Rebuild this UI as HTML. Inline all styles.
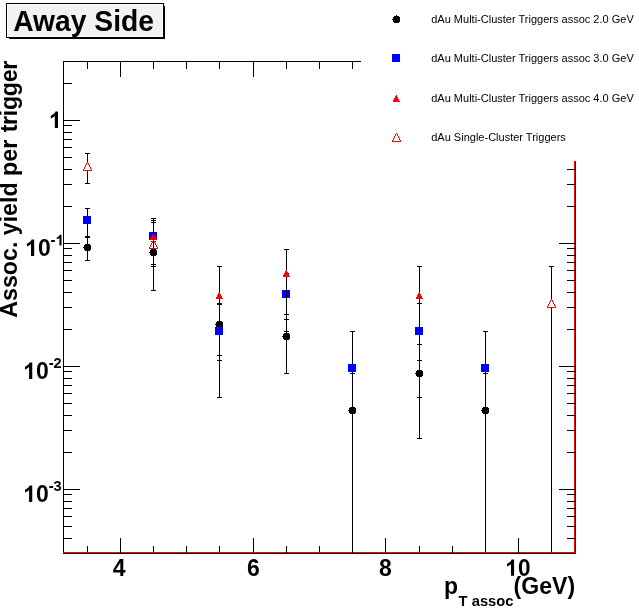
<!DOCTYPE html>
<html><head><meta charset="utf-8"><title>Away Side</title>
<style>
html,body{margin:0;padding:0;background:#fff;}
body{width:639px;height:615px;overflow:hidden;font-family:"Liberation Sans",sans-serif;}
svg{display:block;will-change:transform;font-family:"Liberation Sans",sans-serif;}
</style></head><body>
<svg width="639" height="615" viewBox="0 0 639 615" shape-rendering="crispEdges">
<rect width="639" height="615" fill="#fff"/>
<!-- title box -->
<rect x="9" y="6" width="156" height="33" fill="#000"/>
<rect x="6" y="3" width="158" height="35" fill="#000"/>
<rect x="7" y="4" width="156" height="33" fill="#fff"/>
<rect x="8" y="5" width="154" height="31" fill="#f2f2f2"/>
<rect x="63" y="61" width="1" height="493" fill="#000"/>
<rect x="63" y="61" width="298" height="1" fill="#000"/>
<rect x="63" y="552" width="513" height="1" fill="#f00"/>
<rect x="63" y="553" width="513" height="1" fill="#000"/>
<rect x="574" y="161" width="1" height="392" fill="#f00"/>
<rect x="575" y="161" width="1" height="393" fill="#000"/>
<rect x="87" y="546" width="1" height="8" fill="#000"/>
<rect x="87" y="61" width="1" height="8" fill="#000"/>
<rect x="120" y="538" width="1" height="16" fill="#000"/>
<rect x="120" y="61" width="1" height="16" fill="#000"/>
<rect x="153" y="546" width="1" height="8" fill="#000"/>
<rect x="153" y="61" width="1" height="8" fill="#000"/>
<rect x="186" y="546" width="1" height="8" fill="#000"/>
<rect x="186" y="61" width="1" height="8" fill="#000"/>
<rect x="219" y="546" width="1" height="8" fill="#000"/>
<rect x="219" y="61" width="1" height="8" fill="#000"/>
<rect x="253" y="538" width="1" height="16" fill="#000"/>
<rect x="253" y="61" width="1" height="16" fill="#000"/>
<rect x="286" y="546" width="1" height="8" fill="#000"/>
<rect x="286" y="61" width="1" height="8" fill="#000"/>
<rect x="319" y="546" width="1" height="8" fill="#000"/>
<rect x="319" y="61" width="1" height="8" fill="#000"/>
<rect x="352" y="546" width="1" height="8" fill="#000"/>
<rect x="352" y="61" width="1" height="8" fill="#000"/>
<rect x="385" y="538" width="1" height="16" fill="#000"/>
<rect x="419" y="546" width="1" height="8" fill="#000"/>
<rect x="452" y="546" width="1" height="8" fill="#000"/>
<rect x="485" y="546" width="1" height="8" fill="#000"/>
<rect x="518" y="538" width="1" height="16" fill="#000"/>
<rect x="551" y="546" width="1" height="8" fill="#000"/>
<rect x="63" y="553" width="9" height="1" fill="#000"/>
<rect x="567" y="553" width="9" height="1" fill="#000"/>
<rect x="63" y="538" width="9" height="1" fill="#000"/>
<rect x="567" y="538" width="9" height="1" fill="#000"/>
<rect x="63" y="526" width="9" height="1" fill="#000"/>
<rect x="567" y="526" width="9" height="1" fill="#000"/>
<rect x="63" y="516" width="9" height="1" fill="#000"/>
<rect x="567" y="516" width="9" height="1" fill="#000"/>
<rect x="63" y="508" width="9" height="1" fill="#000"/>
<rect x="567" y="508" width="9" height="1" fill="#000"/>
<rect x="63" y="501" width="9" height="1" fill="#000"/>
<rect x="567" y="501" width="9" height="1" fill="#000"/>
<rect x="63" y="494" width="9" height="1" fill="#000"/>
<rect x="567" y="494" width="9" height="1" fill="#000"/>
<rect x="63" y="489" width="17" height="1" fill="#000"/>
<rect x="559" y="489" width="17" height="1" fill="#000"/>
<rect x="63" y="452" width="9" height="1" fill="#000"/>
<rect x="567" y="452" width="9" height="1" fill="#000"/>
<rect x="63" y="430" width="9" height="1" fill="#000"/>
<rect x="567" y="430" width="9" height="1" fill="#000"/>
<rect x="63" y="415" width="9" height="1" fill="#000"/>
<rect x="567" y="415" width="9" height="1" fill="#000"/>
<rect x="63" y="403" width="9" height="1" fill="#000"/>
<rect x="567" y="403" width="9" height="1" fill="#000"/>
<rect x="63" y="393" width="9" height="1" fill="#000"/>
<rect x="567" y="393" width="9" height="1" fill="#000"/>
<rect x="63" y="385" width="9" height="1" fill="#000"/>
<rect x="567" y="385" width="9" height="1" fill="#000"/>
<rect x="63" y="378" width="9" height="1" fill="#000"/>
<rect x="567" y="378" width="9" height="1" fill="#000"/>
<rect x="63" y="371" width="9" height="1" fill="#000"/>
<rect x="567" y="371" width="9" height="1" fill="#000"/>
<rect x="63" y="366" width="17" height="1" fill="#000"/>
<rect x="559" y="366" width="17" height="1" fill="#000"/>
<rect x="63" y="329" width="9" height="1" fill="#000"/>
<rect x="567" y="329" width="9" height="1" fill="#000"/>
<rect x="63" y="307" width="9" height="1" fill="#000"/>
<rect x="567" y="307" width="9" height="1" fill="#000"/>
<rect x="63" y="292" width="9" height="1" fill="#000"/>
<rect x="567" y="292" width="9" height="1" fill="#000"/>
<rect x="63" y="280" width="9" height="1" fill="#000"/>
<rect x="567" y="280" width="9" height="1" fill="#000"/>
<rect x="63" y="270" width="9" height="1" fill="#000"/>
<rect x="567" y="270" width="9" height="1" fill="#000"/>
<rect x="63" y="262" width="9" height="1" fill="#000"/>
<rect x="567" y="262" width="9" height="1" fill="#000"/>
<rect x="63" y="255" width="9" height="1" fill="#000"/>
<rect x="567" y="255" width="9" height="1" fill="#000"/>
<rect x="63" y="248" width="9" height="1" fill="#000"/>
<rect x="567" y="248" width="9" height="1" fill="#000"/>
<rect x="63" y="243" width="17" height="1" fill="#000"/>
<rect x="559" y="243" width="17" height="1" fill="#000"/>
<rect x="63" y="206" width="9" height="1" fill="#000"/>
<rect x="567" y="206" width="9" height="1" fill="#000"/>
<rect x="63" y="184" width="9" height="1" fill="#000"/>
<rect x="567" y="184" width="9" height="1" fill="#000"/>
<rect x="63" y="169" width="9" height="1" fill="#000"/>
<rect x="567" y="169" width="9" height="1" fill="#000"/>
<rect x="63" y="157" width="9" height="1" fill="#000"/>
<rect x="63" y="147" width="9" height="1" fill="#000"/>
<rect x="63" y="139" width="9" height="1" fill="#000"/>
<rect x="63" y="132" width="9" height="1" fill="#000"/>
<rect x="63" y="125" width="9" height="1" fill="#000"/>
<rect x="63" y="120" width="17" height="1" fill="#000"/>
<rect x="63" y="83" width="9" height="1" fill="#000"/>
<rect x="63" y="61" width="9" height="1" fill="#000"/>
<rect x="87" y="153" width="1" height="10" fill="#000"/>
<rect x="87" y="171" width="1" height="13" fill="#000"/>
<rect x="87" y="208" width="1" height="53" fill="#000"/>
<rect x="85" y="153" width="5" height="1" fill="#000"/>
<rect x="85" y="183" width="5" height="1" fill="#000"/>
<rect x="85" y="208" width="5" height="1" fill="#000"/>
<rect x="85" y="236" width="5" height="1" fill="#000"/>
<rect x="85" y="237" width="5" height="1" fill="#000"/>
<rect x="85" y="260" width="5" height="1" fill="#000"/>
<rect x="153" y="218" width="1" height="73" fill="#000"/>
<rect x="151" y="218" width="5" height="1" fill="#000"/>
<rect x="151" y="220" width="5" height="1" fill="#000"/>
<rect x="151" y="222" width="5" height="1" fill="#000"/>
<rect x="151" y="241" width="5" height="1" fill="#000"/>
<rect x="151" y="264" width="5" height="1" fill="#000"/>
<rect x="151" y="266" width="5" height="1" fill="#000"/>
<rect x="151" y="290" width="5" height="1" fill="#000"/>
<rect x="219" y="266" width="1" height="132" fill="#000"/>
<rect x="217" y="266" width="5" height="1" fill="#000"/>
<rect x="217" y="303" width="5" height="1" fill="#000"/>
<rect x="217" y="304" width="5" height="1" fill="#000"/>
<rect x="217" y="355" width="5" height="1" fill="#000"/>
<rect x="217" y="360" width="5" height="1" fill="#000"/>
<rect x="217" y="397" width="5" height="1" fill="#000"/>
<rect x="286" y="249" width="1" height="125" fill="#000"/>
<rect x="284" y="249" width="5" height="1" fill="#000"/>
<rect x="284" y="273" width="5" height="1" fill="#000"/>
<rect x="284" y="314" width="5" height="1" fill="#000"/>
<rect x="284" y="319" width="5" height="1" fill="#000"/>
<rect x="284" y="331" width="5" height="1" fill="#000"/>
<rect x="284" y="373" width="5" height="1" fill="#000"/>
<rect x="352" y="331" width="1" height="222" fill="#000"/>
<rect x="350" y="331" width="5" height="1" fill="#000"/>
<rect x="350" y="373" width="5" height="1" fill="#000"/>
<rect x="419" y="266" width="1" height="173" fill="#000"/>
<rect x="417" y="266" width="5" height="1" fill="#000"/>
<rect x="417" y="303" width="5" height="1" fill="#000"/>
<rect x="417" y="344" width="5" height="1" fill="#000"/>
<rect x="417" y="360" width="5" height="1" fill="#000"/>
<rect x="417" y="397" width="5" height="1" fill="#000"/>
<rect x="417" y="438" width="5" height="1" fill="#000"/>
<rect x="485" y="331" width="1" height="222" fill="#000"/>
<rect x="483" y="331" width="5" height="1" fill="#000"/>
<rect x="483" y="373" width="5" height="1" fill="#000"/>
<rect x="551" y="266" width="1" height="34" fill="#000"/>
<rect x="551" y="308" width="1" height="245" fill="#000"/>
<rect x="549" y="266" width="5" height="1" fill="#000"/>
<path fill="#000" d="M85 244h5v1h1v5h-1v1h-5v-1h-1v-5h1zM83 247h1v1h-1zM87 243h1v1h-1z"/>
<path fill="#000" d="M151 249h5v1h1v5h-1v1h-5v-1h-1v-5h1zM149 252h1v1h-1zM153 248h1v1h-1z"/>
<path fill="#000" d="M217 321h5v1h1v5h-1v1h-5v-1h-1v-5h1zM215 324h1v1h-1zM219 320h1v1h-1z"/>
<path fill="#000" d="M284 333h5v1h1v5h-1v1h-5v-1h-1v-5h1zM282 336h1v1h-1zM286 332h1v1h-1z"/>
<path fill="#000" d="M350 407h5v1h1v5h-1v1h-5v-1h-1v-5h1zM348 410h1v1h-1zM352 406h1v1h-1z"/>
<path fill="#000" d="M417 370h5v1h1v5h-1v1h-5v-1h-1v-5h1zM415 373h1v1h-1zM419 369h1v1h-1z"/>
<path fill="#000" d="M483 407h5v1h1v5h-1v1h-5v-1h-1v-5h1zM481 410h1v1h-1zM485 406h1v1h-1z"/>
<rect x="83" y="216" width="8" height="8" fill="#0000ff"/>
<rect x="149" y="232" width="8" height="8" fill="#0000ff"/>
<rect x="215" y="327" width="8" height="8" fill="#0000ff"/>
<rect x="282" y="290" width="8" height="8" fill="#0000ff"/>
<rect x="348" y="364" width="8" height="8" fill="#0000ff"/>
<rect x="415" y="327" width="8" height="8" fill="#0000ff"/>
<rect x="481" y="364" width="8" height="8" fill="#0000ff"/>
<path fill="#f00" d="M153 233h1v1h-1zM152 234h2v1h-2zM152 235h3v1h-3zM151 236h4v1h-4zM151 237h5v1h-5zM150 238h6v1h-6zM150 239h7v1h-7z"/>
<path fill="#f00" d="M219 292h1v1h-1zM218 293h2v1h-2zM218 294h3v1h-3zM217 295h4v1h-4zM217 296h5v1h-5zM216 297h6v1h-6zM216 298h7v1h-7z"/>
<path fill="#f00" d="M286 270h1v1h-1zM285 271h2v1h-2zM285 272h3v1h-3zM284 273h4v1h-4zM284 274h5v1h-5zM283 275h6v1h-6zM283 276h7v1h-7z"/>
<path fill="#f00" d="M419 292h1v1h-1zM418 293h2v1h-2zM418 294h3v1h-3zM417 295h4v1h-4zM417 296h5v1h-5zM416 297h6v1h-6zM416 298h7v1h-7z"/>
<rect x="153" y="232" width="1" height="8" fill="#000"/>
<rect x="219" y="327" width="1" height="8" fill="#000"/>
<rect x="286" y="290" width="1" height="8" fill="#000"/>
<rect x="419" y="327" width="1" height="8" fill="#000"/>
<path fill="#f00" d="M87 162h1v1h-1zM86 163h1v2h-1zM88 163h1v2h-1zM85 165h1v2h-1zM89 165h1v2h-1zM84 167h1v2h-1zM90 167h1v2h-1zM83 169h1v2h-1zM91 169h1v2h-1zM83 170h9v1h-9z"/>
<path fill="#f00" d="M153 240h1v1h-1zM152 241h1v2h-1zM154 241h1v2h-1zM151 243h1v2h-1zM155 243h1v2h-1zM150 245h1v2h-1zM156 245h1v2h-1zM149 247h1v2h-1zM157 247h1v2h-1zM149 248h9v1h-9z"/>
<path fill="#f00" d="M551 299h1v1h-1zM550 300h1v2h-1zM552 300h1v2h-1zM549 302h1v2h-1zM553 302h1v2h-1zM548 304h1v2h-1zM554 304h1v2h-1zM547 306h1v2h-1zM555 306h1v2h-1zM547 307h9v1h-9z"/>
<path fill="#000" d="M394 16h5v1h1v5h-1v1h-5v-1h-1v-5h1zM392 19h1v1h-1zM396 15h1v1h-1z"/>
<rect x="392" y="54" width="8" height="8" fill="#0000ff"/>
<path fill="#f00" d="M396 95h1v1h-1zM395 96h2v1h-2zM395 97h3v1h-3zM394 98h4v1h-4zM394 99h5v1h-5zM393 100h6v1h-6zM393 101h7v1h-7z"/>
<path fill="#f00" d="M396 133h1v1h-1zM395 134h1v2h-1zM397 134h1v2h-1zM394 136h1v2h-1zM398 136h1v2h-1zM393 138h1v2h-1zM399 138h1v2h-1zM392 140h1v2h-1zM400 140h1v2h-1zM392 141h9v1h-9z"/>
<g fill="#000" shape-rendering="auto">
<text transform="translate(431.2,22.6) scale(1.0,1.04)" font-size="11.02" font-weight="normal" text-anchor="start">dAu Multi-Cluster Triggers assoc 2.0 GeV</text>
<text transform="translate(431.2,61.6) scale(1.0,1.04)" font-size="11.02" font-weight="normal" text-anchor="start">dAu Multi-Cluster Triggers assoc 3.0 GeV</text>
<text transform="translate(431.2,101.6) scale(1.0,1.04)" font-size="11.02" font-weight="normal" text-anchor="start">dAu Multi-Cluster Triggers assoc 4.0 GeV</text>
<text transform="translate(431.2,140.8) scale(1.0,1.04)" font-size="11.02" font-weight="normal" text-anchor="start">dAu Single-Cluster Triggers</text>
<text transform="translate(13.2,31) scale(1.0,1.04)" font-size="28.25" font-weight="bold" text-anchor="start">Away Side</text>
<path transform="translate(48.9482421875,128) scale(0.011230,-0.011230)" d="M806 0H525V1059Q371 915 162 846V1101Q272 1137 401 1237.5Q530 1338 578 1472H806Z"/>
<path transform="translate(25.125679687499996,256) scale(0.011230,-0.011230)" d="M806 0H525V1059Q371 915 162 846V1101Q272 1137 401 1237.5Q530 1338 578 1472H806Z"/>
<text transform="translate(37.91367968749999,256) scale(1.0,1.04)" font-size="23" font-weight="bold" text-anchor="start">0</text>
<text transform="translate(50.601679687499995,245.0) scale(1.0,1.04)" font-size="15" font-weight="bold" text-anchor="start">-</text>
<path transform="translate(55.59667968749999,245.5) scale(0.007324,-0.007324)" d="M806 0H525V1059Q371 915 162 846V1101Q272 1137 401 1237.5Q530 1338 578 1472H806Z"/>
<path transform="translate(23.189,379) scale(0.011230,-0.011230)" d="M806 0H525V1059Q371 915 162 846V1101Q272 1137 401 1237.5Q530 1338 578 1472H806Z"/>
<text transform="translate(35.977000000000004,379) scale(1.0,1.04)" font-size="23" font-weight="bold" text-anchor="start">0</text>
<text transform="translate(48.665,368.0) scale(1.0,1.04)" font-size="15" font-weight="bold" text-anchor="start">-</text>
<text transform="translate(53.459999999999994,368.0) scale(1.0,1.04)" font-size="14.5" font-weight="bold" text-anchor="start">2</text>
<path transform="translate(23.189,502) scale(0.011230,-0.011230)" d="M806 0H525V1059Q371 915 162 846V1101Q272 1137 401 1237.5Q530 1338 578 1472H806Z"/>
<text transform="translate(35.977000000000004,502) scale(1.0,1.04)" font-size="23" font-weight="bold" text-anchor="start">0</text>
<text transform="translate(48.665,491.0) scale(1.0,1.04)" font-size="15" font-weight="bold" text-anchor="start">-</text>
<text transform="translate(53.459999999999994,491.0) scale(1.0,1.04)" font-size="14.5" font-weight="bold" text-anchor="start">3</text>
<text transform="translate(119.1,575.9) scale(1.0,1.04)" font-size="23" font-weight="bold" text-anchor="middle">4</text>
<text transform="translate(253.3,575.9) scale(1.0,1.04)" font-size="23" font-weight="bold" text-anchor="middle">6</text>
<text transform="translate(385.3,575.9) scale(1.0,1.04)" font-size="23" font-weight="bold" text-anchor="middle">8</text>
<path transform="translate(505.212,575.8) scale(0.011006,-0.011006)" d="M806 0H525V1059Q371 915 162 846V1101Q272 1137 401 1237.5Q530 1338 578 1472H806Z"/>
<text transform="translate(518.0,575.8) scale(1.0,1.04)" font-size="22.54" font-weight="bold" text-anchor="start">0</text>
<text transform="translate(444,593.7) scale(1.0,1.04)" font-size="23.0" font-weight="bold" text-anchor="start">p</text>
<text transform="translate(458.6,605.8) scale(1.0,1.04)" font-size="14.75" font-weight="bold" text-anchor="start">T assoc</text>
<text transform="translate(513.6,593.6) scale(1.0,1.04)" font-size="23.1" font-weight="bold" text-anchor="start">(GeV)</text>
<text transform="translate(17.0,317.7) rotate(-90) scale(1,1.04)" font-size="23.2" font-weight="bold">Assoc. yield per<tspan dx="1.4" letter-spacing="-0.3"> trigger</tspan></text>
</g>
</svg>
</body></html>
